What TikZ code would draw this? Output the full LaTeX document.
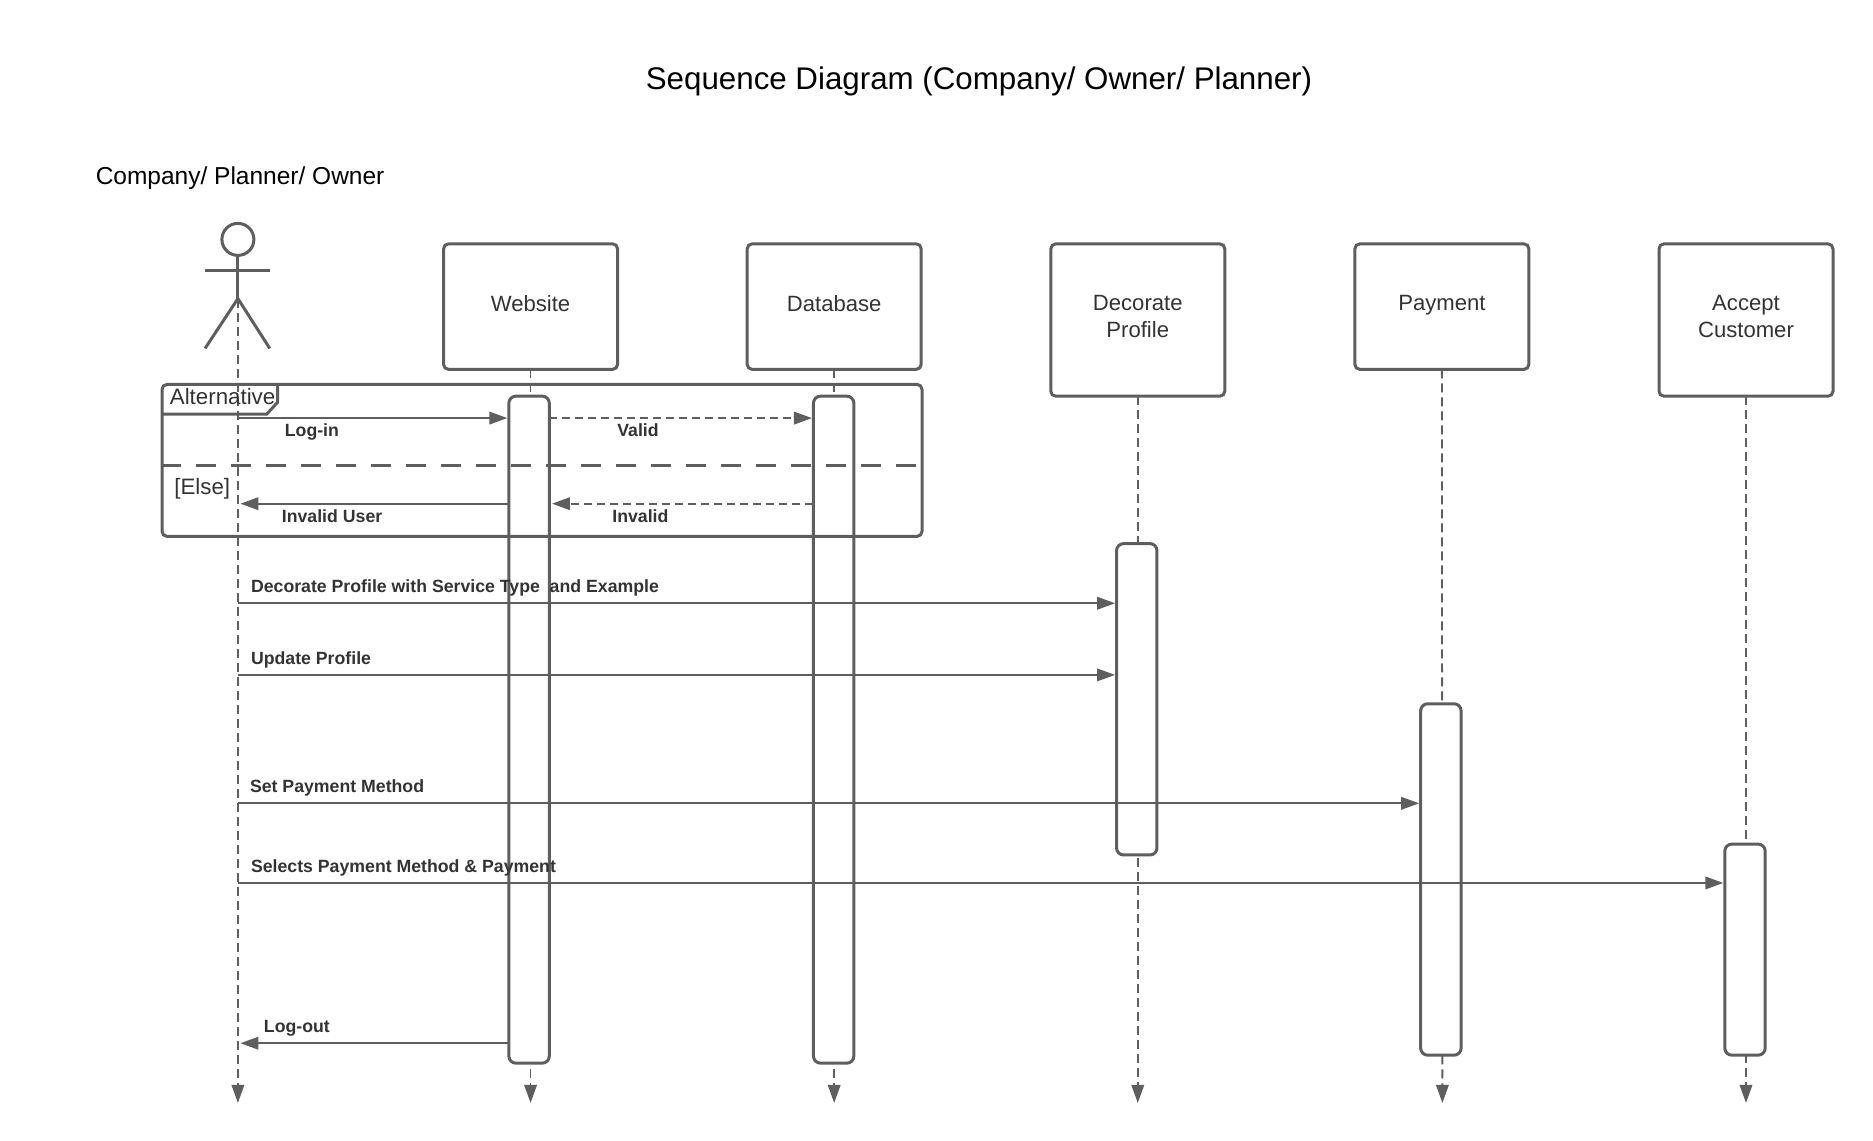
\documentclass[tikz,border=0pt]{standalone}
\usepackage{fontspec}
\setmainfont{Liberation Sans}
\usetikzlibrary{arrows.meta}
\definecolor{linegray}{HTML}{5E5E5E}
\definecolor{textgray}{HTML}{333333}
\tikzset{
    lifebox/.style={draw=linegray, line width=3pt, rounded corners=5pt, fill=white, minimum width=174pt, outer sep=0pt, align=center, text=textgray, font=\fontsize{22.1}{26.3}\selectfont, inner sep=0pt, text depth=7pt},
    actbox/.style={draw=linegray, line width=3pt, rounded corners=7pt, fill=white, minimum width=40.4pt, outer sep=0pt, inner sep=0pt},
    lifeline/.style={draw=linegray, line width=1.8pt, dash pattern=on 9pt off 5pt, -{Triangle[length=18pt,width=12.5pt]}},
    msg/.style={draw=linegray, line width=2pt, shorten >=1.5pt, -{Triangle[length=18pt,width=12.5pt]}},
    msgdash/.style={msg, dash pattern=on 8pt off 5pt},
    msglabel/.style={anchor=west, inner sep=0pt, text=textgray, font=\fontsize{17.7}{20}\selectfont\bfseries, text height=13pt, text depth=4pt},
    framelabel/.style={anchor=west, inner sep=0pt, text=textgray, font=\fontsize{22.3}{26}\selectfont},
    titlelabel/.style={inner sep=0pt, text=black}
}
\begin{document}
\begin{tikzpicture}[x=0.99544pt, y=-0.99544pt]
    \useasboundingbox (0,0) rectangle (1881.6,1146.2);

    % heading
    \node[titlelabel, font=\fontsize{31.3}{36}\selectfont] (title) at (983.5,82) {Sequence Diagram (Company/ Owner/ Planner)};
    \node[titlelabel, anchor=west, font=\fontsize{24.5}{29}\selectfont] (subtitle) at (96,179) {Company/ Planner/ Owner};

    % ends of the lifelines
    \coordinate (hip) at (239,300);
    \coordinate (end0) at (239,1108);
    \coordinate (end1) at (533,1108);
    \coordinate (end2) at (838,1108);
    \coordinate (end3) at (1143,1108);
    \coordinate (end4) at (1449,1108);
    \coordinate (end5) at (1754,1108);

    % lifeline heads
    \node[lifebox, minimum height=125.6pt] (website) at (533,308) {Website};
    \node[lifebox, minimum height=125.6pt] (database) at (838,308) {Database};
    \node[lifebox, minimum height=152.4pt] (decorate) at (1143,321.5) {Decorate\\Profile};
    \node[lifebox, minimum height=125.6pt] (payment) at (1448.5,308) {Payment};
    \node[lifebox, minimum height=152.4pt] (accept) at (1754,321.5) {Accept\\Customer};

    \draw[lifeline] (website.south) -- (end1);
    \draw[lifeline] (database.south) -- (end2);
    \draw[lifeline] (decorate.south) -- (end3);
    \draw[lifeline] (payment.south) -- (end4);
    \draw[lifeline] (accept.south) -- (end5);
    \draw[lifeline] (hip) -- (end0);

    % actor
    \node[circle, draw=linegray, line width=3pt, fill=white, minimum size=32pt, inner sep=0pt, outer sep=0pt] (head) at (239,240.5) {};
    \coordinate (armleft) at (206,272);
    \coordinate (armright) at (271,272);
    \coordinate (footleft) at (206,350);
    \coordinate (footright) at (271,350);
    \draw[linegray, line width=3pt] (head) -- (hip);
    \draw[linegray, line width=3pt] (armleft) -- (armright);
    \draw[linegray, line width=3pt] (footleft) -- (hip) -- (footright);

    % activations
    \node[actbox, minimum height=667pt] (actweb) at (531.5,733) {};
    \node[actbox, minimum height=667pt] (actdata) at (837.5,733) {};
    \node[actbox, minimum height=311.4pt] (actdeco) at (1142,702.5) {};
    \node[actbox, minimum height=351.4pt] (actpay) at (1447.5,883.5) {};
    \node[actbox, minimum height=211pt] (actacc) at (1753,954) {};

    % alternative frame
    \node[draw=linegray, line width=3pt, rounded corners=5pt, minimum width=760pt, minimum height=152pt, outer sep=0pt, inner sep=0pt] (frame) at (544.5,462.5) {};
    \coordinate (tagtop) at (279,386);
    \coordinate (tagright) at (279,404);
    \coordinate (tagcut) at (268,416);
    \coordinate (tagleft) at (162,416);
    \draw[linegray, line width=3pt] (tagtop) -- (tagright) -- (tagcut) -- (tagleft);
    \coordinate (elseleft) at (162,468);
    \coordinate (elseright) at (926,468);
    \draw[linegray, line width=3pt, dash pattern=on 20pt off 15pt] (elseleft) -- (elseright);
    \node[framelabel] (alt) at (170.5,398) {Alternative};
    \node[framelabel] (else) at (175,490.5) {[Else]};

    % messages
    \coordinate (login) at (239,420);
    \coordinate (valid) at (552,420);
    \coordinate (invuser) at (240,506);
    \coordinate (inv) at (553,506);
    \coordinate (deco) at (239,606);
    \coordinate (upd) at (239,678);
    \coordinate (setpay) at (239,807);
    \coordinate (selpay) at (239,887);
    \coordinate (logout) at (240,1048);

    \draw[msg] (login) -- (actweb.west |- login);
    \draw[msgdash] (valid) -- (actdata.west |- valid);
    \draw[msg] (actweb.west |- invuser) -- (invuser);
    \draw[msgdash] (actdata.west |- inv) -- (inv);
    \draw[msg] (deco) -- (actdeco.west |- deco);
    \draw[msg] (upd) -- (actdeco.west |- upd);
    \draw[msg] (setpay) -- (actpay.west |- setpay);
    \draw[msg] (selpay) -- (actacc.west |- selpay);
    \draw[msg] (actweb.west |- logout) -- (logout);

    \node[msglabel] (lablogin) at (286,434) {Log-in};
    \node[msglabel] (labvalid) at (620,434) {Valid};
    \node[msglabel] (labinvuser) at (283,520) {Invalid User};
    \node[msglabel] (labinv) at (615,520) {Invalid};
    \node[msglabel] (labdeco) at (252,590.5) {Decorate Profile with Service Type\ \ and Example};
    \node[msglabel] (labupd) at (252,663) {Update Profile};
    \node[msglabel] (labsetpay) at (251,792) {Set Payment Method};
    \node[msglabel] (labselpay) at (252,872) {Selects Payment Method \& Payment};
    \node[msglabel] (lablogout) at (265,1033) {Log-out};
\end{tikzpicture}
\end{document}
